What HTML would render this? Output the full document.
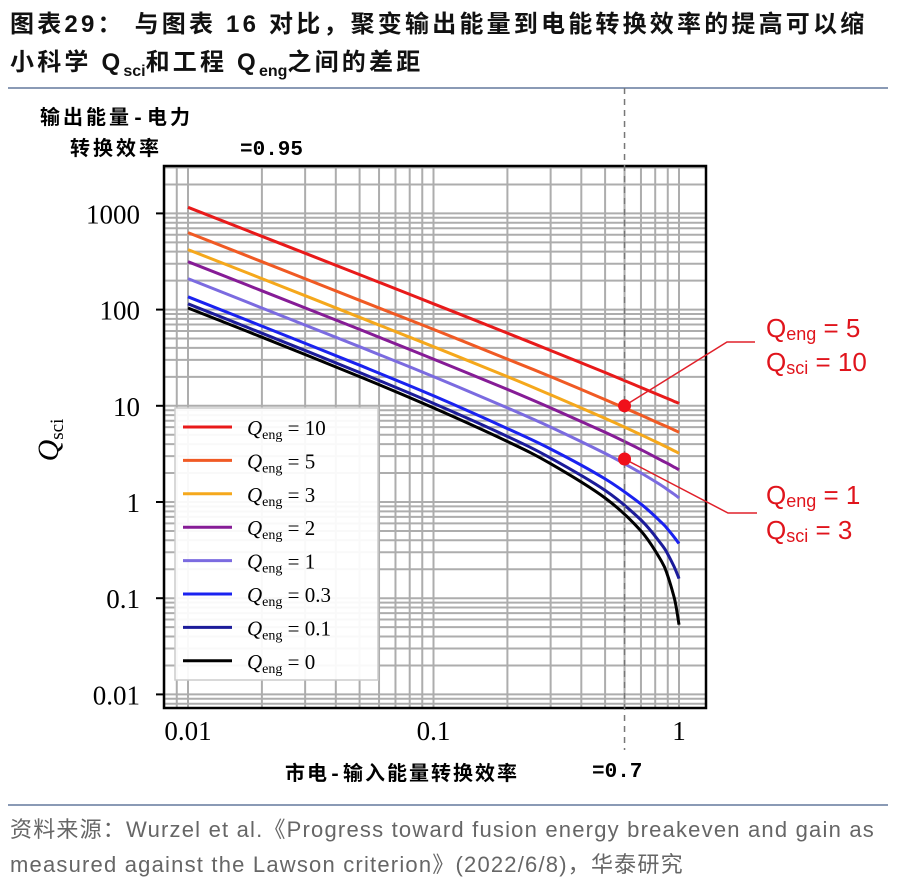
<!DOCTYPE html>
<html><head><meta charset="utf-8"><style>
body{margin:0;background:#fff;width:904px;height:882px;overflow:hidden;font-family:"Liberation Sans","Noto Sans CJK SC",sans-serif;}
.t{position:absolute;white-space:nowrap;}
</style></head><body>
<div class="t" style="left:10px;top:6px;font-family:'Liberation Sans','Noto Sans CJK SC',sans-serif;font-size:24px;font-weight:bold;line-height:38px;color:#111;letter-spacing:3.2px;">图表29： 与图表 16 对比，聚变输出能量到电能转换效率的提高可以缩<br>小科学 Q<sub style="font-size:16px;letter-spacing:0">sci</sub>和工程 Q<sub style="font-size:16px;letter-spacing:0">eng</sub>之间的差距</div>
<div style="position:absolute;left:8px;top:87px;width:880px;height:2px;background:#8a9ab5;"></div>
<svg width="904" height="882" style="position:absolute;left:0;top:0" id="svg"></svg>
<div style="position:absolute;left:8px;top:804px;width:880px;height:2px;background:#8a9ab5;"></div>
<div class="t" style="left:10px;top:812px;font-size:22px;line-height:35px;color:#666;letter-spacing:1.2px;">资料来源：Wurzel et al.《Progress toward fusion energy breakeven and gain as<br>measured against the Lawson criterion》(2022/6/8)，华泰研究</div>
<script>
const xs=[0.01,0.02,0.05,0.1,0.2,0.3,0.5,0.7,0.85,0.9,0.95,0.97,1.0];
const seriesNames=["10","5","3","2","1","0.3","0.1","0"];
const q10=[1157,578,231,115,57,37.6,22.2,15.5,12.6,11.87,11.19,10.94,10.6];
const q5=[631,315,125,62.2,30.6,20.1,11.6,8.0,6.4,6.02,5.65,5.51,5.3];
const q3=[420,210,83.2,41.1,20.1,13.0,7.4,5.0,3.95,3.68,3.43,3.34,3.2];
const q2=[315,157,62.2,30.6,14.8,9.5,5.3,3.5,2.7,2.51,2.32,2.26,2.16];
const q1=[210,104,41.1,20.1,9.5,6.0,3.2,2.0,1.48,1.34,1.216,1.17,1.1];
const q03=[136,67.4,26.4,12.7,5.8,3.56,1.74,0.95,0.61,0.52,0.44,0.41,0.37];
const q01=[115,56.9,22.2,10.6,4.8,2.86,1.32,0.65,0.36,0.287,0.219,0.194,0.16];
const q0=[104,51.6,20.1,9.5,4.26,2.5,1.1,0.50,0.24,0.17,0.108,0.085,0.053];
const yTicks=["0.01","0.1","1","10","100","1000"];
const xTicks=["0.01","0.1","1"];
const markers=[[0.6,10],[0.6,2.8]];
const colors=["#e81a1a","#f05a24","#f5a81c","#861c96","#7b6be0","#1a22f0","#1c1c9a","#000"];
const all=[q10,q5,q3,q2,q1,q03,q01,q0];
const S=document.getElementById('svg'),NS='http://www.w3.org/2000/svg';
function X(v){return 679+245.5*Math.log10(v);}
function Y(v){return 502-96.2*Math.log10(v);}
function el(t,a,p){const e=document.createElementNS(NS,t);for(const k in a)e.setAttribute(k,a[k]);(p||S).appendChild(e);return e;}
const L=164,R=706,T=166,B=708;
el('rect',{x:L,y:T,width:R-L,height:B-T,fill:'#fff'});
const g=el('g',{stroke:'#adadad','stroke-width':2});

for(let d=-3;d<=1;d++)for(let m=1;m<10;m++){const v=m*Math.pow(10,d);const x=X(v);if(x>L&&x<R)el('line',{x1:x,x2:x,y1:T,y2:B},g);}
for(let d=-3;d<=4;d++)for(let m=1;m<10;m++){const v=m*Math.pow(10,d);const y=Y(v);if(y>T&&y<B)el('line',{x1:L,x2:R,y1:y,y2:y},g);}
el('rect',{x:L,y:T,width:R-L,height:B-T,fill:'none',stroke:'#000','stroke-width':2.5});
yTicks.forEach(t=>{const y=Y(+t);const e=el('text',{x:140,y:y+10,'text-anchor':'end','font-size':27,'font-family':'Liberation Serif, serif'});e.textContent=t;el('line',{x1:L-8,x2:L,y1:y,y2:y,stroke:'#000','stroke-width':2});});
xTicks.forEach(t=>{const x=X(+t);const e=el('text',{x:x,y:740,'text-anchor':'middle','font-size':27,'font-family':'Liberation Serif, serif'});e.textContent=t;});
function smooth(pts){let d='M'+pts[0][0].toFixed(1)+' '+pts[0][1].toFixed(1);for(let i=0;i<pts.length-1;i++){const p0=pts[Math.max(0,i-1)],p1=pts[i],p2=pts[i+1],p3=pts[Math.min(pts.length-1,i+2)];const c1=[p1[0]+(p2[0]-p0[0])/6,p1[1]+(p2[1]-p0[1])/6],c2=[p2[0]-(p3[0]-p1[0])/6,p2[1]-(p3[1]-p1[1])/6];d+='C'+c1[0].toFixed(1)+' '+c1[1].toFixed(1)+' '+c2[0].toFixed(1)+' '+c2[1].toFixed(1)+' '+p2[0].toFixed(1)+' '+p2[1].toFixed(1);}return d;}
all.forEach((s,i)=>{const pts=s.map((v,j)=>[X(xs[j]),Y(v)]);const p=el('path',{d:smooth(pts),fill:'none',stroke:colors[i],'stroke-width':3});});
const lg=el('g',{});
el('rect',{x:175,y:408,width:203,height:272,fill:'#fff','fill-opacity':0.92,stroke:'#ccc','stroke-width':1.5},lg);
seriesNames.forEach((n,i)=>{const y=427+i*33.4;el('line',{x1:183,x2:232,y1:y,y2:y,stroke:colors[i],'stroke-width':3},lg);const t=el('text',{x:247,y:y+8,'font-size':21,'font-family':'Liberation Serif, serif'},lg);t.innerHTML='<tspan font-style="italic">Q</tspan><tspan font-size="14" dy="4">eng</tspan><tspan dy="-4"> = '+n+'</tspan>';});
const dl=el('line',{x1:X(0.6),x2:X(0.6),y1:88,y2:750,stroke:'#777','stroke-width':1.5,'stroke-dasharray':'6,5'});
const ann=[[727,342,755,"5","10",328,362],[728,513,757,"1","3",495,530]];
markers.forEach((m,i)=>{const cx=X(m[0]),cy=Y(m[1]);const a=ann[i];el('polyline',{points:cx+','+cy+' '+a[0]+','+a[1]+' '+a[2]+','+a[1],fill:'none',stroke:'#e0202a','stroke-width':1.5});const c=el('circle',{cx:cx,cy:cy,r:6.5,fill:'#f0101a'});
const t1=el('text',{x:766,y:a[5]+9,'font-size':26,fill:'#e0141c'});t1.innerHTML='Q<tspan font-size="18" dy="3">eng</tspan><tspan dy="-3"> = '+a[3]+'</tspan>';
const t2=el('text',{x:766,y:a[6]+9,'font-size':26,fill:'#e0141c'});t2.innerHTML='Q<tspan font-size="18" dy="3">sci</tspan><tspan dy="-3"> = '+a[4]+'</tspan>';});
function txt(x,y,s,fs,name,extra){const t=el('text',Object.assign({x:x,y:y,'font-size':fs,'font-weight':'bold','font-family':'Liberation Mono, Noto Sans CJK SC, monospace'},extra||{}));t.textContent=s;return t;}
txt(40,124,'输出能量-电力',20,'top-label-line1',{'letter-spacing':'3'});
txt(70,155,'转换效率',20,'top-label-line2',{'letter-spacing':'3'});
txt(240,155,'=0.95',21,'top-label-value');
txt(285,780,'市电-输入能量转换效率',20,'x-axis-title',{'letter-spacing':'2'});
txt(592,777,'=0.7',21,'x-axis-value');
const yl=el('text',{x:0,y:0,'font-size':30,'font-family':'Liberation Serif, serif',transform:'translate(58,440) rotate(-90)','text-anchor':'middle'});yl.innerHTML='<tspan font-style="italic">Q</tspan><tspan font-size="19" dy="5">sci</tspan>';
</script>
</body></html>
